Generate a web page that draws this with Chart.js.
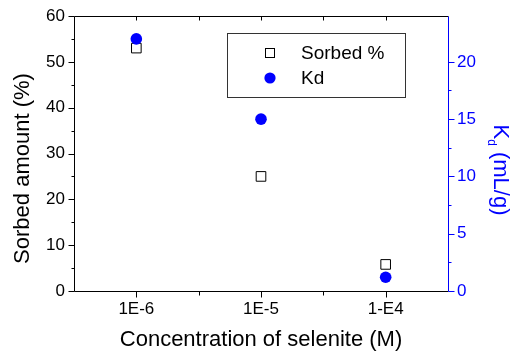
<!DOCTYPE html>
<html>
<head>
<meta charset="utf-8">
<script src="https://cdn.jsdelivr.net/npm/chart.js@4/dist/chart.umd.min.js"></script>
<style>
html, body { margin: 0; padding: 0; background: #fff; }
</style>
</head>
<body>
<canvas id="myChart" width="512" height="354"></canvas>
<script>
// values
const categories = ['1E-6', '1E-5', '1-E4'];
const sorbedPercent = [53, 25, 5.8];
const kdValues = [22, 15, 1.2];
const seriesLabels = ['Sorbed %', 'Kd'];

const BLUE = '#0000ff';
const FONT = '"Liberation Sans", Arial, sans-serif';
Chart.defaults.font.family = FONT;
Chart.defaults.color = '#000';

function toPoints(values) {
    return values.map((v, i) => ({ x: i + 1, y: v }));
}

// frame, tick marks, legend and the two y titles
const framePlugin = {
    id: 'frame',
    afterDraw(chart) {
        const ctx = chart.ctx;
        const { left, right, top, bottom } = chart.chartArea;
        const xs = chart.scales.x, yl = chart.scales.y, yr = chart.scales.y1;
        const px = v => Math.round(v) + 0.5;
        ctx.save();
        ctx.lineWidth = 1;

        ctx.strokeStyle = '#000';
        ctx.beginPath();
        ctx.moveTo(px(right), px(top));
        ctx.lineTo(px(left), px(top));
        ctx.lineTo(px(left), px(bottom));
        ctx.lineTo(px(right), px(bottom));
        // x ticks: bottom outward, top inward
        xs.ticks.forEach(t => {
            if (t.value <= xs.min || t.value >= xs.max) return;
            const x = px(xs.getPixelForValue(t.value));
            const len = Number.isInteger(t.value) ? 6 : 4;
            ctx.moveTo(x, px(bottom));
            ctx.lineTo(x, px(bottom) + len);
            ctx.moveTo(x, px(top));
            ctx.lineTo(x, px(top) + 4);
        });
        // left ticks
        yl.ticks.forEach(t => {
            const y = px(yl.getPixelForValue(t.value));
            const len = t.value % 10 === 0 ? 6 : 3;
            ctx.moveTo(px(left), y);
            ctx.lineTo(px(left) - len, y);
        });
        ctx.stroke();

        // right axis in blue
        ctx.strokeStyle = BLUE;
        ctx.beginPath();
        ctx.moveTo(px(right), px(top));
        ctx.lineTo(px(right), px(bottom));
        yr.ticks.forEach(t => {
            if (!Number.isInteger(t.value / 2.5)) return;
            const y = px(yr.getPixelForValue(t.value));
            const len = t.value % 5 === 0 ? 6 : 3;
            ctx.moveTo(px(right), y);
            ctx.lineTo(px(right) + len, y);
        });
        ctx.stroke();

        // legend
        const bx = left + 153, by = top + 17, bw = 178, bh = 64;
        ctx.strokeStyle = '#333';
        ctx.strokeRect(px(bx), px(by), bw, bh);
        ctx.font = '19px ' + FONT;
        ctx.textAlign = 'left';
        ctx.textBaseline = 'middle';
        chart.data.datasets.forEach((ds, i) => {
            const my = by + 20 + i * 25;
            const mx = bx + 43;
            if (ds.pointStyle === 'rect') {
                ctx.fillStyle = '#fff';
                ctx.strokeStyle = '#000';
                ctx.fillRect(mx - 4.5, my - 4.5, 9, 9);
                ctx.strokeRect(px(mx - 5), px(my - 5), 9, 9);
            } else {
                ctx.fillStyle = ds.backgroundColor;
                ctx.beginPath();
                ctx.arc(mx, my, 5.6, 0, Math.PI * 2);
                ctx.fill();
            }
            ctx.fillStyle = '#000';
            ctx.fillText(ds.label, bx + 74, my + 1);
        });

        // left title
        ctx.font = '22px ' + FONT;
        ctx.fillStyle = '#000';
        ctx.textAlign = 'center';
        ctx.save();
        ctx.translate(22.5, 168.5);
        ctx.rotate(-Math.PI / 2);
        ctx.fillText('Sorbed amount (%)', 0, 0);
        ctx.restore();

        // right title, K with subscript d
        ctx.fillStyle = BLUE;
        ctx.textAlign = 'left';
        ctx.textBaseline = 'alphabetic';
        const big = '22px ' + FONT, small = '12px ' + FONT;
        ctx.font = big;
        const wK = ctx.measureText('K').width;
        const wRest = ctx.measureText(' (mL/g)').width;
        ctx.font = small;
        const wd = ctx.measureText('d').width;
        const total = wK + wd + wRest;
        ctx.save();
        ctx.translate(chart.width - 11, 170);
        ctx.rotate(Math.PI / 2);
        let x0 = -total / 2;
        ctx.font = big;
        ctx.fillText('K', x0, 7);
        x0 += wK;
        ctx.font = small;
        ctx.fillText('d', x0, 13);
        x0 += wd;
        ctx.font = big;
        ctx.fillText(' (mL/g)', x0, 7);
        ctx.restore();

        ctx.restore();
    }
};

const ctx = document.getElementById('myChart').getContext('2d');
const myChart = new Chart(ctx, {
    type: 'scatter',
    data: {
        datasets: [
            {
                label: seriesLabels[0],
                data: toPoints(sorbedPercent),
                yAxisID: 'y',
                pointStyle: 'rect',
                pointRadius: 6.8,
                pointHoverRadius: 6.8,
                borderWidth: 1,
                borderColor: '#000',
                backgroundColor: '#fff',
                order: 1
            },
            {
                label: seriesLabels[1],
                data: toPoints(kdValues),
                yAxisID: 'y1',
                pointStyle: 'circle',
                pointRadius: 5.8,
                pointHoverRadius: 5.8,
                borderWidth: 0,
                borderColor: BLUE,
                backgroundColor: BLUE,
                order: 0
            }
        ]
    },
    options: {
        responsive: false,
        animation: false,
        layout: { padding: { top: 16, left: 0, right: 0, bottom: 0 }, autoPadding: false },
        plugins: {
            legend: { display: false },
            tooltip: { enabled: false }
        },
        scales: {
            x: {
                type: 'linear',
                min: 0.5,
                max: 3.5,
                afterFit: s => { s.height = 63; },
                ticks: {
                    stepSize: 0.5,
                    autoSkip: false,
                    maxRotation: 0,
                    padding: 2,
                    font: { size: 17 },
                    callback: v => Number.isInteger(v) ? categories[v - 1] : ''
                },
                grid: { drawOnChartArea: false, tickLength: 6, tickColor: 'rgba(0,0,0,0)' },
                border: { display: false },
                title: {
                    display: true,
                    text: 'Concentration of selenite (M)',
                    font: { size: 22 },
                    padding: { top: 0, bottom: 1 }
                }
            },
            y: {
                position: 'left',
                min: 0,
                max: 60,
                afterFit: s => { s.width = 74; },
                ticks: {
                    stepSize: 5,
                    autoSkip: false,
                    padding: 3,
                    font: { size: 17 },
                    callback: v => v % 10 === 0 ? v : ''
                },
                grid: { drawOnChartArea: false, tickLength: 6, tickColor: 'rgba(0,0,0,0)' },
                border: { display: false }
            },
            y1: {
                position: 'right',
                min: 0,
                max: 24,
                afterFit: s => { s.width = 64; },
                ticks: {
                    stepSize: 2.5,
                    autoSkip: false,
                    padding: 3,
                    color: BLUE,
                    font: { size: 17 },
                    callback: v => v % 5 === 0 ? v : ''
                },
                grid: { drawOnChartArea: false, tickLength: 6, tickColor: 'rgba(0,0,0,0)' },
                border: { display: false }
            }
        }
    },
    plugins: [framePlugin]
});
</script>
</body>
</html>
